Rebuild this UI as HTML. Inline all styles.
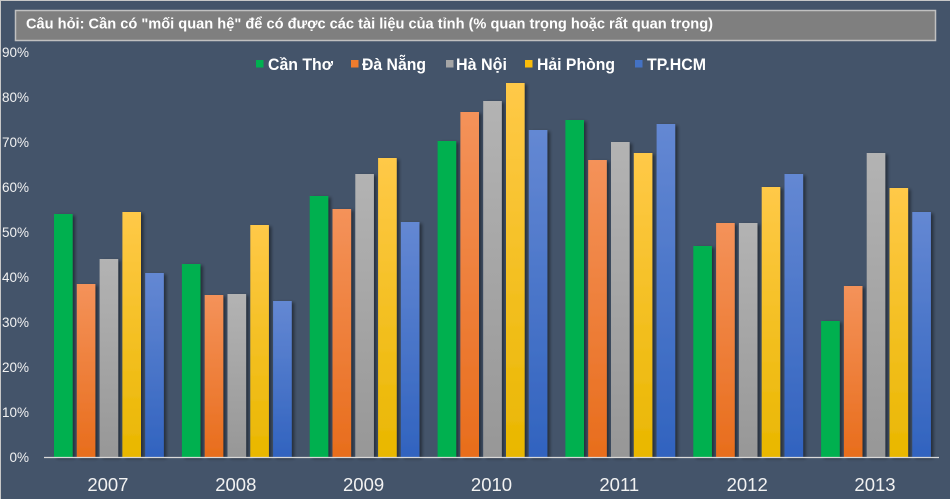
<!DOCTYPE html>
<html>
<head>
<meta charset="utf-8">
<style>
html,body{margin:0;padding:0;background:#44546a;}
svg{display:block;}
</style>
</head>
<body>
<svg width="950" height="499" viewBox="0 0 950 499" xmlns="http://www.w3.org/2000/svg">
<defs>
<linearGradient id="gO" x1="0" y1="0" x2="0" y2="1"><stop offset="0" stop-color="#f4925a"/><stop offset="1" stop-color="#e86d1c"/></linearGradient>
<linearGradient id="gG" x1="0" y1="0" x2="0" y2="1"><stop offset="0" stop-color="#b3b3b3"/><stop offset="1" stop-color="#979797"/></linearGradient>
<linearGradient id="gY" x1="0" y1="0" x2="0" y2="1"><stop offset="0" stop-color="#ffc948"/><stop offset="1" stop-color="#e9b700"/></linearGradient>
<linearGradient id="gB" x1="0" y1="0" x2="0" y2="1"><stop offset="0" stop-color="#6488d3"/><stop offset="1" stop-color="#3163bf"/></linearGradient>
<filter id="sh" x="-30%" y="-10%" width="160%" height="130%">
<feDropShadow dx="2.5" dy="1.5" stdDeviation="1.6" flood-color="#000" flood-opacity="0.45"/>
</filter>
</defs>
<rect x="0" y="0" width="950" height="499" fill="#44546a"/>
<line x1="0" y1="0.5" x2="950" y2="0.5" stroke="#c8c8c8" stroke-width="1"/>
<line x1="0.5" y1="0" x2="0.5" y2="499" stroke="#c8c8c8" stroke-width="1"/>

<!-- title box -->
<rect x="15.5" y="10.5" width="920" height="30" fill="#7f7f7f" stroke="#c0c0c0" stroke-width="1.5"/>
<text x="26" y="28.5" font-family="Liberation Sans, sans-serif" font-weight="bold" font-size="15" fill="#ffffff" textLength="687" lengthAdjust="spacingAndGlyphs">Câu hỏi: Cần có "mối quan hệ" để có được các tài liệu của tỉnh (% quan trọng hoặc rất quan trọng)</text>

<!-- legend -->
<g font-family="Liberation Sans, sans-serif" font-weight="bold" font-size="17" fill="#ffffff">
<rect x="256" y="60" width="7.5" height="7.5" fill="#00b050"/>
<text x="268" y="70" textLength="65" lengthAdjust="spacingAndGlyphs">Cần Thơ</text>
<rect x="351" y="60" width="7.5" height="7.5" fill="#f07c2e"/>
<text x="362" y="70" textLength="64" lengthAdjust="spacingAndGlyphs">Đà Nẵng</text>
<rect x="446" y="60" width="7.5" height="7.5" fill="#a5a5a5"/>
<text x="456" y="70" textLength="51" lengthAdjust="spacingAndGlyphs">Hà Nội</text>
<rect x="525" y="60" width="7.5" height="7.5" fill="#fbbd0a"/>
<text x="537" y="70" textLength="78" lengthAdjust="spacingAndGlyphs">Hải Phòng</text>
<rect x="635" y="60" width="7.5" height="7.5" fill="#4472c4"/>
<text x="647" y="70" textLength="59" lengthAdjust="spacingAndGlyphs">TP.HCM</text>
</g>

<!-- y axis labels -->
<g font-family="Liberation Sans, sans-serif" font-size="13.5" fill="#f2f2f2" text-anchor="end">
<text x="29" y="462">0%</text>
<text x="29" y="417">10%</text>
<text x="29" y="372">20%</text>
<text x="29" y="327">30%</text>
<text x="29" y="282">40%</text>
<text x="29" y="237">50%</text>
<text x="29" y="192">60%</text>
<text x="29" y="147">70%</text>
<text x="29" y="102">80%</text>
<text x="29" y="57">90%</text>
</g>

<!-- bars -->
<g filter="url(#sh)">
<!-- 2007 -->
<rect x="54" y="214" width="18.6" height="243" fill="#00b050"/>
<rect x="76.8" y="284" width="18.6" height="173" fill="url(#gO)"/>
<rect x="99.6" y="259" width="18.6" height="198" fill="url(#gG)"/>
<rect x="122.4" y="212" width="18.6" height="245" fill="url(#gY)"/>
<rect x="145.2" y="273" width="18.6" height="184" fill="url(#gB)"/>
<!-- 2008 -->
<rect x="181.9" y="264" width="18.6" height="193" fill="#00b050"/>
<rect x="204.7" y="295" width="18.6" height="162" fill="url(#gO)"/>
<rect x="227.5" y="294" width="18.6" height="163" fill="url(#gG)"/>
<rect x="250.3" y="225" width="18.6" height="232" fill="url(#gY)"/>
<rect x="273.1" y="301" width="18.6" height="156" fill="url(#gB)"/>
<!-- 2009 -->
<rect x="309.7" y="196" width="18.6" height="261" fill="#00b050"/>
<rect x="332.5" y="209" width="18.6" height="248" fill="url(#gO)"/>
<rect x="355.3" y="174" width="18.6" height="283" fill="url(#gG)"/>
<rect x="378.1" y="158" width="18.6" height="299" fill="url(#gY)"/>
<rect x="400.9" y="222" width="18.6" height="235" fill="url(#gB)"/>
<!-- 2010 -->
<rect x="437.6" y="141" width="18.6" height="316" fill="#00b050"/>
<rect x="460.4" y="112" width="18.6" height="345" fill="url(#gO)"/>
<rect x="483.2" y="101" width="18.6" height="356" fill="url(#gG)"/>
<rect x="506" y="83" width="18.6" height="374" fill="url(#gY)"/>
<rect x="528.8" y="130" width="18.6" height="327" fill="url(#gB)"/>
<!-- 2011 -->
<rect x="565.4" y="120" width="18.6" height="337" fill="#00b050"/>
<rect x="588.2" y="160" width="18.6" height="297" fill="url(#gO)"/>
<rect x="611" y="142" width="18.6" height="315" fill="url(#gG)"/>
<rect x="633.8" y="153" width="18.6" height="304" fill="url(#gY)"/>
<rect x="656.6" y="124" width="18.6" height="333" fill="url(#gB)"/>
<!-- 2012 -->
<rect x="693.3" y="246" width="18.6" height="211" fill="#00b050"/>
<rect x="716.1" y="223" width="18.6" height="234" fill="url(#gO)"/>
<rect x="738.9" y="223" width="18.6" height="234" fill="url(#gG)"/>
<rect x="761.7" y="187" width="18.6" height="270" fill="url(#gY)"/>
<rect x="784.5" y="174" width="18.6" height="283" fill="url(#gB)"/>
<!-- 2013 -->
<rect x="821.1" y="321" width="18.6" height="136" fill="#00b050"/>
<rect x="843.9" y="286" width="18.6" height="171" fill="url(#gO)"/>
<rect x="866.7" y="153" width="18.6" height="304" fill="url(#gG)"/>
<rect x="889.5" y="188" width="18.6" height="269" fill="url(#gY)"/>
<rect x="912.3" y="212" width="18.6" height="245" fill="url(#gB)"/>
</g>

<!-- x axis -->
<line x1="44" y1="457.5" x2="939" y2="457.5" stroke="#d9d9d9" stroke-width="1.3"/>

<g font-family="Liberation Sans, sans-serif" font-size="18.5" fill="#f2f2f2" text-anchor="middle">
<text x="107.9" y="491">2007</text>
<text x="235.8" y="491">2008</text>
<text x="363.6" y="491">2009</text>
<text x="491.5" y="491">2010</text>
<text x="619.3" y="491">2011</text>
<text x="747.2" y="491">2012</text>
<text x="875" y="491">2013</text>
</g>
</svg>
</body>
</html>
